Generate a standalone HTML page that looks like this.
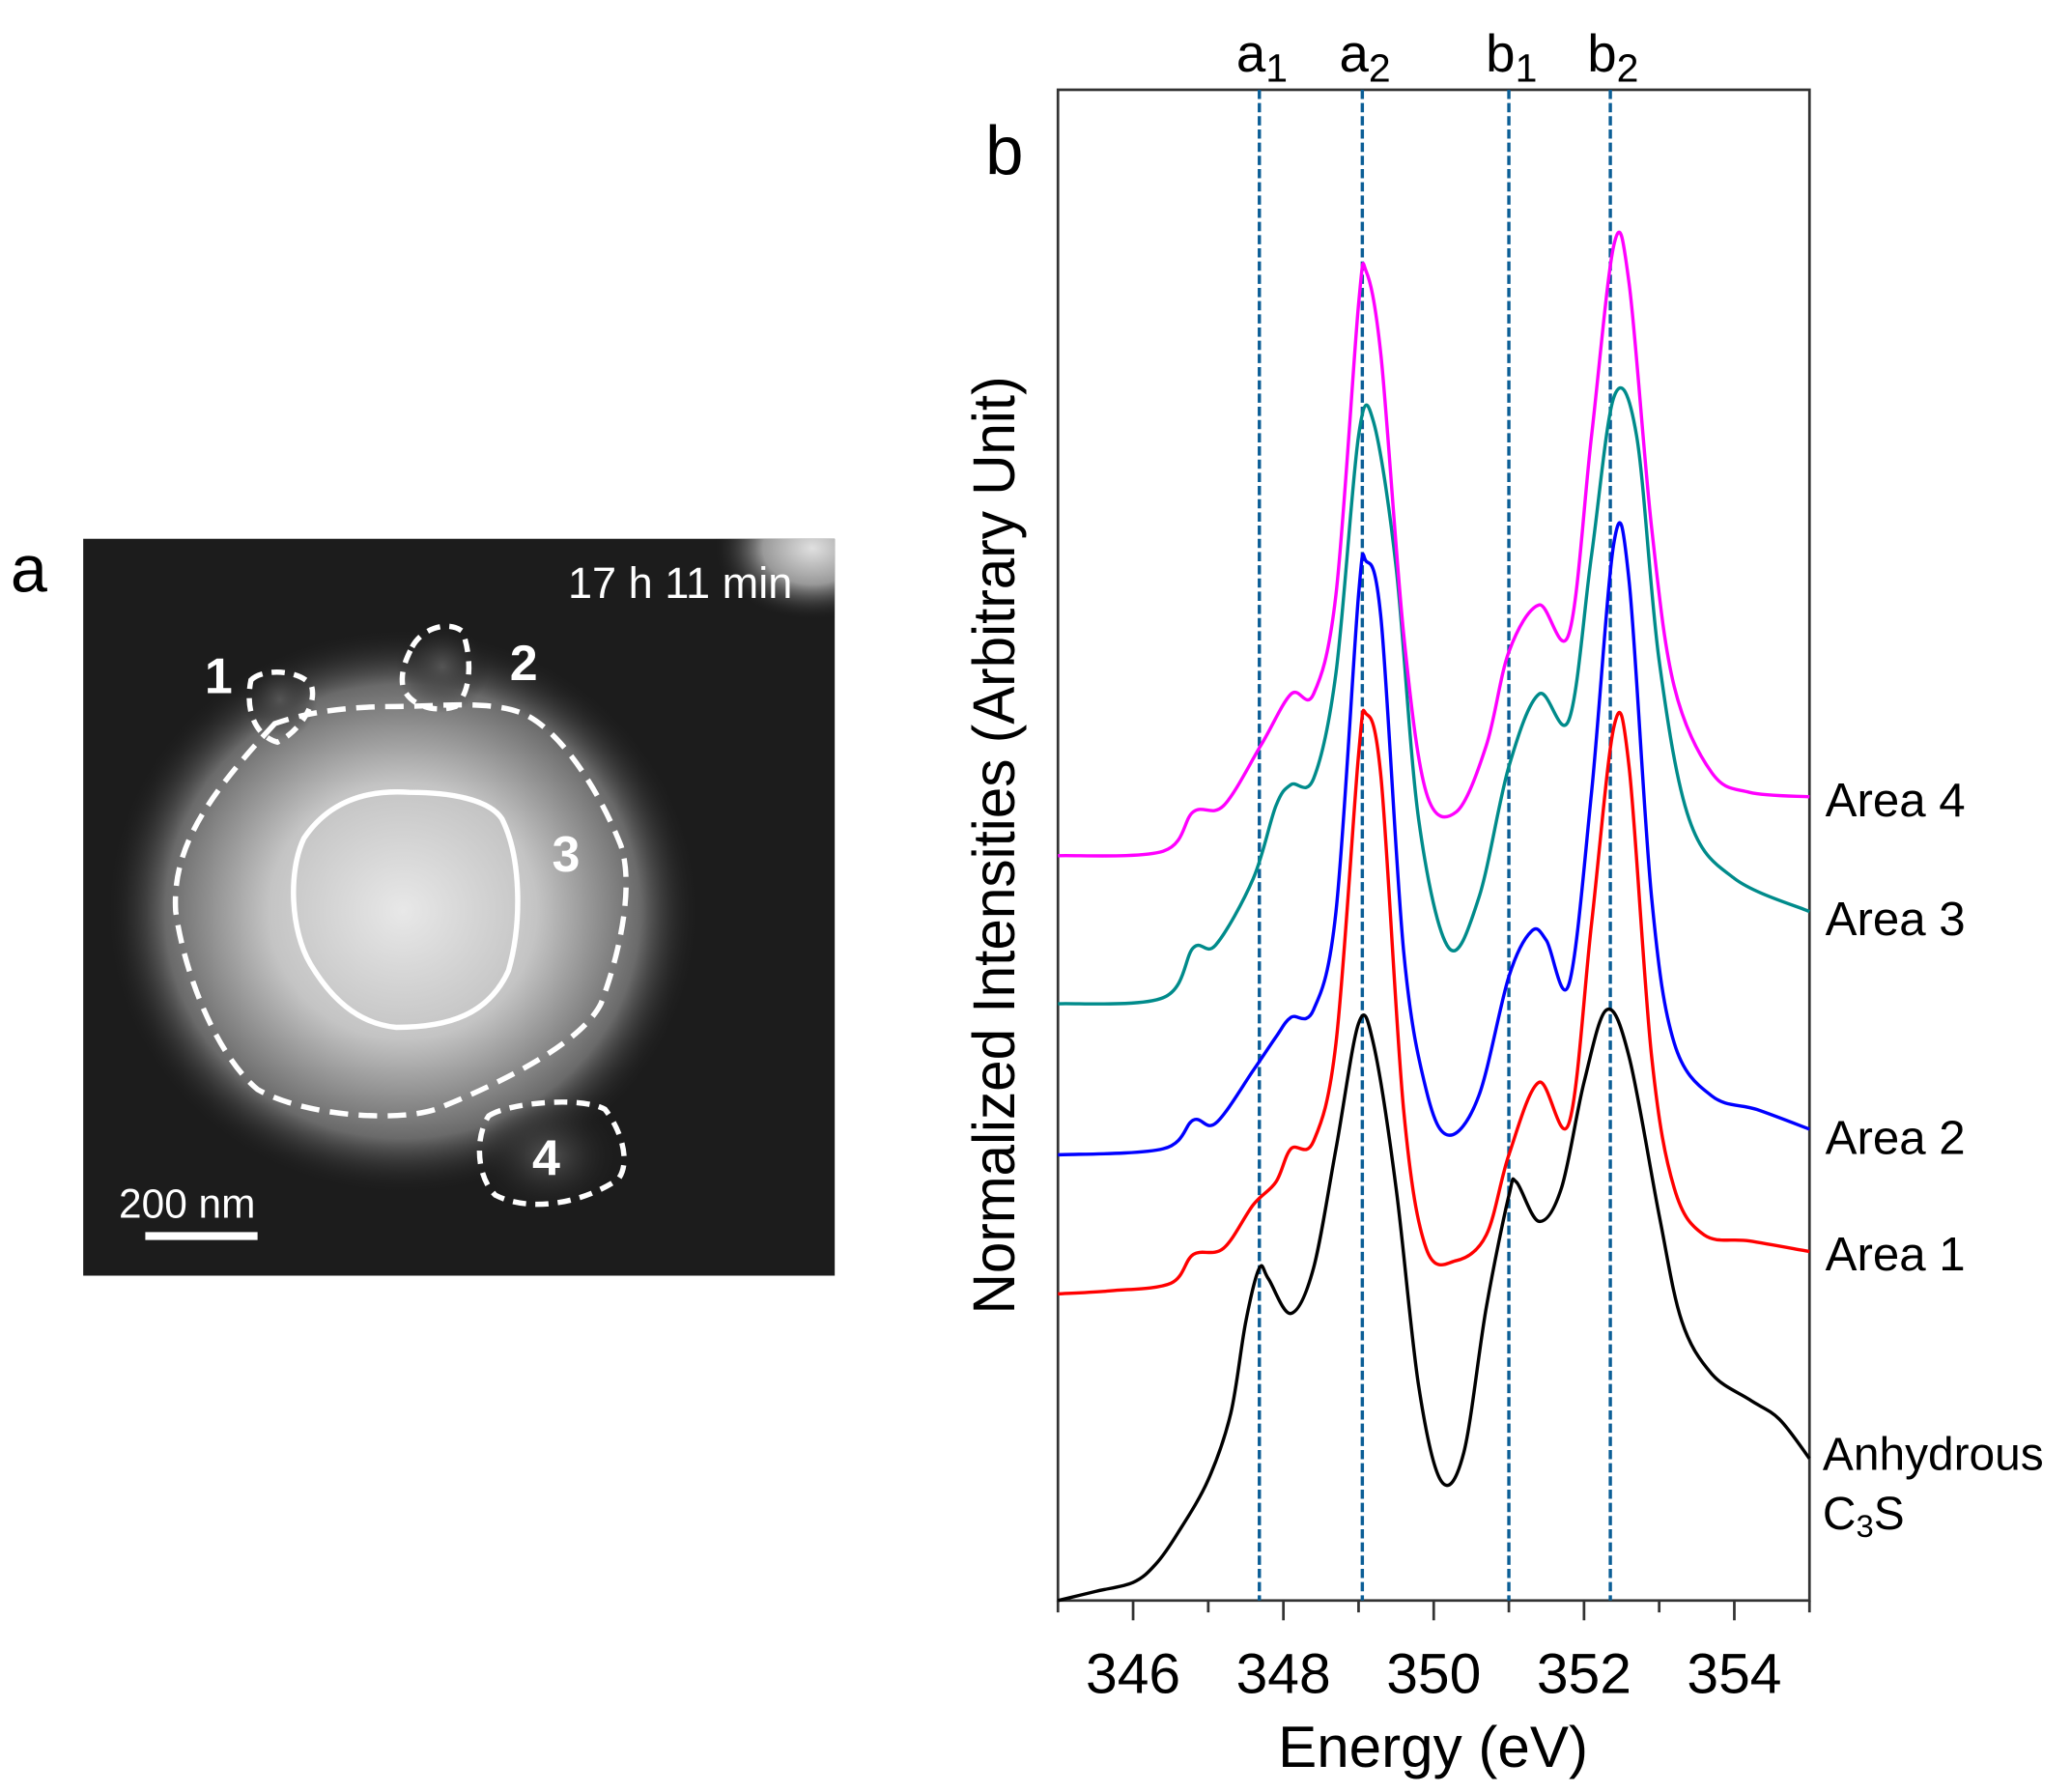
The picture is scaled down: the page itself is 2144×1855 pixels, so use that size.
<!DOCTYPE html>
<html><head><meta charset="utf-8"><style>
html,body{margin:0;padding:0;background:#fff;}
svg{display:block;font-family:"Liberation Sans",sans-serif;}
</style></head><body>
<svg id="fig" width="2144" height="1855" viewBox="0 0 1568 1357" preserveAspectRatio="none" xmlns="http://www.w3.org/2000/svg">
<defs>
<radialGradient id="glow" cx="0.5" cy="0.5" r="0.5">
<stop offset="0" stop-color="#e8e8e8"/><stop offset="0.45" stop-color="#c4c4c4"/><stop offset="0.8" stop-color="#6a6a6a"/><stop offset="1" stop-color="#1c1c1c" stop-opacity="0"/>
</radialGradient>
<radialGradient id="corner" cx="0.5" cy="0.5" r="0.5"><stop offset="0" stop-color="#e0e0e0"/><stop offset="0.5" stop-color="#999"/><stop offset="1" stop-color="#1c1c1c" stop-opacity="0"/></radialGradient>
<radialGradient id="small" cx="0.5" cy="0.5" r="0.5"><stop offset="0" stop-color="#555"/><stop offset="1" stop-color="#1c1c1c" stop-opacity="0"/></radialGradient>
<clipPath id="imgclip"><rect x="63" y="408" width="569" height="558"/></clipPath>
</defs>
<g>
<text x="8" y="448" font-size="50">a</text>
<rect x="63" y="408" width="569" height="558" fill="#1c1c1c"/>
<g clip-path="url(#imgclip)">
<ellipse cx="615" cy="415" rx="75" ry="55" fill="url(#corner)"/>
<ellipse cx="305" cy="690" rx="225" ry="215" fill="url(#glow)"/>
<ellipse cx="415" cy="875" rx="55" ry="45" fill="url(#small)"/>
<ellipse cx="335" cy="505" rx="35" ry="35" fill="url(#small)"/>
<ellipse cx="212" cy="530" rx="28" ry="30" fill="url(#small)"/>
</g>
<g fill="none" stroke="#fff" stroke-width="4">
<path stroke-dasharray="14,8" d="M208,548 C160,600 130,640 133,690 C140,740 165,800 195,825 C230,845 300,850 330,840 C380,820 440,790 455,760 C470,720 480,670 470,640 C450,590 420,550 395,540 C370,530 330,535 300,535 C260,535 230,540 208,548 Z"/>
<path stroke-dasharray="10,7" d="M190,515 C200,505 230,508 236,520 C240,535 225,555 210,562 C195,558 185,540 190,515 Z"/>
<path stroke-dasharray="10,7" d="M312,490 C320,475 340,470 350,478 C355,490 360,520 345,535 C330,540 310,535 305,520 C303,508 308,498 312,490 Z"/>
<path stroke-dasharray="10,7" d="M370,845 C385,835 440,830 458,840 C470,855 478,880 468,893 C440,912 400,918 375,905 C360,890 360,860 370,845 Z"/>
<path d="M230,635 C250,605 280,598 310,600 C340,600 370,605 380,620 C395,650 395,700 385,735 C370,768 340,778 300,778 C270,775 250,755 235,730 C220,705 218,660 230,635 Z"/>
</g>
<g fill="#fff" font-size="38" font-weight="bold">
<text x="155" y="525">1</text>
<text x="386" y="515">2</text>
<text x="418" y="660">3</text>
<text x="403" y="890">4</text>
</g>
<text x="430" y="453" fill="#fff" font-size="33">17 h 11 min</text>
<text x="90" y="922" fill="#fff" font-size="31">200 nm</text>
<rect x="110" y="933" width="85" height="6" fill="#fff"/>
</g>
<g id="panelb"></g>
</svg>
<script>
const xTicks=[346,348,350,352,354];
const refLines=[347.68,349.05,351.0,352.35];
const refLabels=[["a","1"],["a","2"],["b","1"],["b","2"]];
const seriesNames=["Anhydrous C3S","Area 1","Area 2","Area 3","Area 4"];
const seriesColors=["#000000","#ff0000","#0000ff","#008b8b","#ff00ff"];
const blackX=[345,345.5,346,346.3,346.6,347,347.3,347.5,347.68,347.8,348.1,348.4,348.7,349,349.2,349.5,349.8,350.1,350.4,350.7,351,351.1,351.4,351.7,352,352.3,352.6,353,353.3,353.7,354.2,354.6,355];
const blackY=[0,0.6,1.2,2.4,4.5,8,12.4,18.5,22,21.3,19,22,29.9,38.2,36.8,27.3,14.2,7.9,9.8,19.4,26.8,27.7,25.1,27.3,34.3,39.1,36,25.5,18.5,15,13.3,12,9.4];
const redX=[345,345.7,346.5,346.8,347.2,347.6,347.9,348.1,348.4,348.7,349,349.1,349.3,349.6,349.9,350.3,350.7,351,351.4,351.8,352.1,352.4,352.6,352.9,353.2,353.6,354.2,355];
const redY=[20.3,20.5,21,22.9,23.3,26.2,27.7,29.9,30.4,36.9,56,58.7,54.4,32.5,23.3,22.5,24.2,29.5,34.3,31.6,44.8,57.9,55.2,36,27.3,24.2,23.8,23.1];
const blueX=[345,346.4,346.8,347.1,347.6,347.9,348.1,348.4,348.7,349,349.1,349.3,349.6,349.9,350.2,350.6,351,351.3,351.5,351.8,352.1,352.4,352.6,352.9,353.2,353.7,354.3,355];
const blueY=[29.5,29.9,31.8,31.6,35.1,37.3,38.6,39.1,45.6,66.6,68.8,64.9,43,33.8,30.8,33.4,41.3,44.3,43.7,40.8,53.5,70.1,67.5,46.5,36.9,33.4,32.5,31.2];
const tealX=[345,346.4,346.8,347.1,347.6,347.9,348.1,348.4,348.7,349,349.2,349.5,349.8,350.2,350.6,351,351.4,351.8,352.1,352.4,352.7,353,353.4,354,355];
const tealY=[39.5,39.9,43.2,43.4,47.8,52.6,54,54.4,61.4,77.1,78,68.4,51.7,43.2,46.5,55.2,60,58.3,69.2,79.7,77.1,62.2,51.7,47.8,45.6];
const magX=[345,346.4,346.8,347.2,347.7,348.1,348.4,348.7,349,349.1,349.3,349.6,349.9,350.3,350.7,351,351.4,351.8,352.1,352.4,352.6,352.9,353.2,353.7,354.2,355];
const magY=[49.3,49.6,52.2,52.6,56.6,60,60,66.6,85.8,88,82.3,64,53.5,52.2,56.6,62.8,65.9,64,77.1,89.8,87.2,71,60.5,54.8,53.5,53.2];

const NS="http://www.w3.org/2000/svg";
const g=document.getElementById("panelb");
const L=801,R=1370,T=68,B=1212;
const xMin=345,xMax=355,yMin=0,yMax=100;
function sx(v){return L+(v-xMin)/(xMax-xMin)*(R-L);}
function sy(v){return B-(v-yMin)/(yMax-yMin)*(B-T);}
function mk(tag,attrs,parent){const e=document.createElementNS(NS,tag);for(const k in attrs)e.setAttribute(k,attrs[k]);(parent||g).appendChild(e);return e;}
function smooth(pts){
  let d="M"+pts[0][0].toFixed(1)+","+pts[0][1].toFixed(1);
  for(let i=0;i<pts.length-1;i++){
    const p0=pts[Math.max(0,i-1)],p1=pts[i],p2=pts[i+1],p3=pts[Math.min(pts.length-1,i+2)];
    const c1=[p1[0]+(p2[0]-p0[0])/6,p1[1]+(p2[1]-p0[1])/6];
    const c2=[p2[0]-(p3[0]-p1[0])/6,p2[1]-(p3[1]-p1[1])/6];
    d+=" C"+c1[0].toFixed(1)+","+c1[1].toFixed(1)+" "+c2[0].toFixed(1)+","+c2[1].toFixed(1)+" "+p2[0].toFixed(1)+","+p2[1].toFixed(1);
  }
  return d;
}

let e=mk("rect",{x:L,y:T,width:R-L,height:B-T,fill:"none",stroke:"#333","stroke-width":2});



for(let v=xMin;v<=xMax;v++){
  const major=xTicks.includes(v);
  e=mk("line",{x1:sx(v),x2:sx(v),y1:B,y2:B+(major?15:9),stroke:"#333","stroke-width":2});
  
  
}
xTicks.forEach(v=>{
  e=mk("text",{x:sx(v),y:B+70,"font-size":43,"text-anchor":"middle"});
  e.textContent=v;
  
  
});
e=mk("text",{x:1085,y:1338,"font-size":44,"text-anchor":"middle"});
e.textContent="Energy (eV)";


e=mk("text",{x:0,y:0,"font-size":45,"text-anchor":"middle",transform:"translate(768,640) rotate(-90) scale(0.95,1)"});
e.textContent="Normalized Intensities (Arbitrary Unit)";


e=mk("text",{x:746,y:132,"font-size":52});
e.textContent="b";



refLines.forEach((v,i)=>{
  e=mk("line",{x1:sx(v),x2:sx(v),y1:T,y2:B,stroke:"#0b5e96","stroke-width":2.5,"stroke-dasharray":"7,3"});
  
  
  const t=mk("text",{x:sx(v)+2,y:54,"font-size":40,"text-anchor":"middle"});
  
  
  t.appendChild(document.createTextNode(refLabels[i][0]));
  const s=mk("tspan",{dy:8,"font-size":30},t);s.textContent=refLabels[i][1];
});

const series=[[blackX,blackY],[redX,redY],[blueX,blueY],[tealX,tealY],[magX,magY]];
series.forEach((s,i)=>{
  const pts=s[0].map((x,j)=>[sx(x),sy(s[1][j])]);
  e=mk("path",{d:smooth(pts),fill:"none",stroke:seriesColors[i],"stroke-width":2.5,"stroke-linejoin":"round"});
  
  
});
const labelY=[1112,962,874,708,618];
[4,3,2,1].forEach(i=>{
  e=mk("text",{x:1382,y:labelY[i],"font-size":36});
  e.textContent=seriesNames[i];
  
  
});
e=mk("text",{x:1380,y:1113,"font-size":35});
e.textContent="Anhydrous";


e=mk("text",{x:1380,y:1158,"font-size":35});


e.appendChild(document.createTextNode("C"));
let ts=mk("tspan",{dy:6,"font-size":24},e);ts.textContent="3";
ts=mk("tspan",{dy:-6},e);ts.textContent="S";
</script>
</body></html>
